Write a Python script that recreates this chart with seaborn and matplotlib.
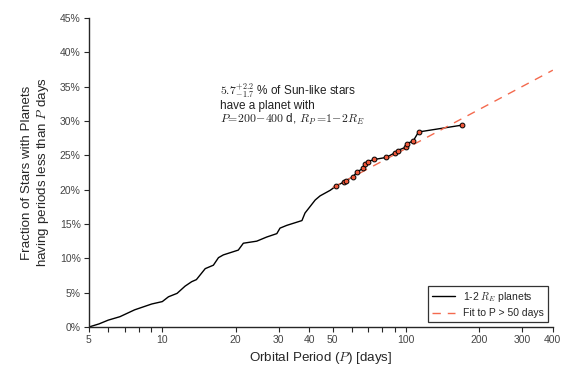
import matplotlib
matplotlib.use("Agg")
import matplotlib.pyplot as plt
import matplotlib.ticker as mticker
import seaborn as sns
import pandas as pd

# cumulative occurrence curve (period in days, fraction in %)
curve_period = [5.0, 5.5, 6.0, 6.7, 7.7, 9.05, 10.0, 10.6, 11.5, 12.4, 13.2, 13.8,
                15.0, 16.2, 17.0, 17.8, 20.5, 21.5, 24.4, 26.8, 29.5, 30.4, 32.4,
                37.4, 38.5, 42.4, 44.4, 48.8]
curve_frac = [0.0, 0.45, 1.0, 1.5, 2.5, 3.35, 3.7, 4.4, 4.9, 5.95, 6.6, 6.9,
              8.5, 9.0, 10.1, 10.5, 11.2, 12.2, 12.5, 13.1, 13.6, 14.4, 14.8,
              15.5, 16.6, 18.5, 19.1, 19.9]

# individual planets beyond 50 days
pts_period = [51.5, 55.4, 56.8, 60.5, 63.2, 66.5, 67.8, 69.5, 74.2, 83.0, 90.3,
              92.3, 99.9, 100.9, 107.0, 112.5, 169.7]
pts_frac = [20.5, 21.1, 21.3, 21.9, 22.6, 23.1, 23.7, 24.1, 24.4, 24.7, 25.4,
            25.7, 26.2, 26.7, 27.1, 28.4, 29.4]

# fit to P > 50 days (end points)
fit_period = [50, 400]
fit_frac = [20.3, 37.4]

xtick_vals = [5, 10, 20, 30, 40, 50, 100, 200, 300, 400]

sns.set_style("ticks")
plt.rcParams['font.family'] = ['Liberation Sans', 'DejaVu Sans']
plt.rcParams['mathtext.fontset'] = 'cm'

df_line = pd.DataFrame({'P': curve_period + pts_period, 'f': curve_frac + pts_frac})
df_pts = pd.DataFrame({'P': pts_period, 'f': pts_frac})
df_fit = pd.DataFrame({'P': fit_period, 'f': fit_frac})

red = '#f0583a'
fig = plt.figure(figsize=(5.85, 3.75), dpi=100)
ax = fig.add_axes([0.152, 0.128, 0.793, 0.824])

sns.lineplot(data=df_line, x='P', y='f', ax=ax, color='black', lw=1.0,
             estimator=None, sort=False, label='1-2 $R_E$ planets')
sns.lineplot(data=df_fit, x='P', y='f', ax=ax, color='#f46a4e', lw=1.0,
             estimator=None, label='Fit to P > 50 days')
ax.lines[-1].set_dashes((6, 5))
sns.scatterplot(data=df_pts, x='P', y='f', ax=ax, color=red, edgecolor='black',
                linewidth=0.7, s=12, zorder=5, legend=False)

ax.set_xscale('log')
ax.set_xlim(5, 400)
ax.set_ylim(0, 45)
ax.xaxis.set_major_locator(mticker.FixedLocator(xtick_vals))
ax.xaxis.set_major_formatter(mticker.FixedFormatter([str(v) for v in xtick_vals]))
ax.xaxis.set_minor_locator(mticker.FixedLocator([6, 7, 8, 9, 60, 70, 80, 90]))
ax.xaxis.set_minor_formatter(mticker.NullFormatter())
ax.yaxis.set_major_locator(mticker.MultipleLocator(5))
ax.yaxis.set_major_formatter(mticker.FuncFormatter(lambda v, p: '%d%%' % v))
ax.tick_params(axis='both', which='both', length=3.5, width=0.8, pad=2.5,
               labelsize=7.5, labelcolor='#444444', direction='out')
sns.despine(ax=ax)
for s in ['left', 'bottom']:
    ax.spines[s].set_linewidth(1.0)

ax.set_xlabel('Orbital Period ($P$) [days]', fontsize=9.6, labelpad=3)
ax.set_ylabel('Fraction of Stars with Planets\nhaving periods less than $P$ days',
              fontsize=9.6, labelpad=6)

ax.text(17.3, 35.8, '$5.7^{+2.2}_{-1.7}$ % of Sun-like stars\nhave a planet with\n'
        '$P\\!=\\!200\\!-\\!400$ d, $R_P\\,\\!=\\!1\\!-\\!2R_E$',
        fontsize=8.5, va='top', ha='left', color='#222222', linespacing=1.0)

leg = ax.legend(loc='lower right', fontsize=7.5, frameon=True, fancybox=False,
                edgecolor='black', borderaxespad=0.5, handlelength=2.2,
                borderpad=0.35, labelspacing=0.4)
leg.get_frame().set_linewidth(0.9)

fig.savefig('out.png', dpi=100)
